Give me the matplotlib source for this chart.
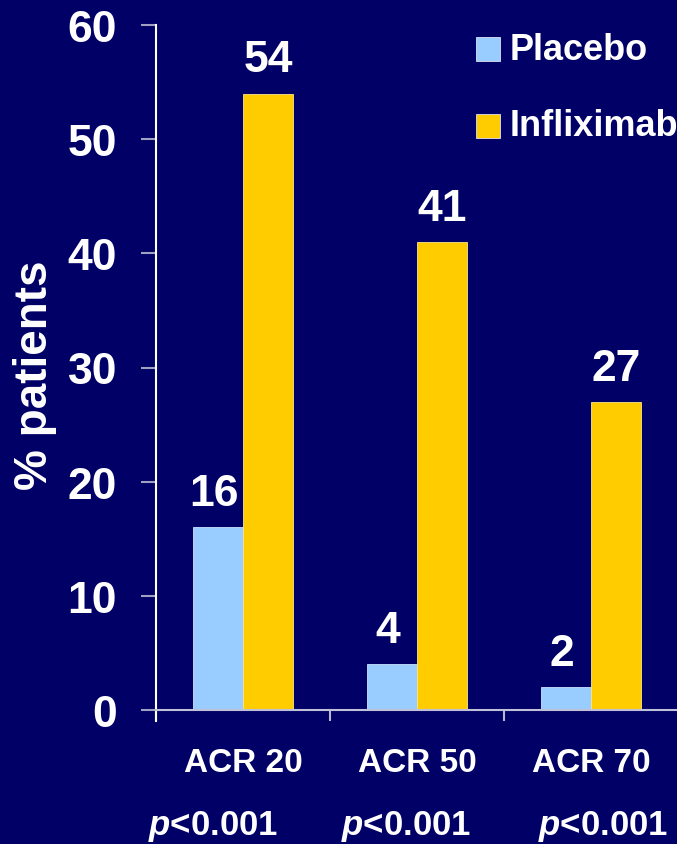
import matplotlib.pyplot as plt
from matplotlib.patches import Rectangle
import numpy as np

# response rates by ACR criterion
categories = ["ACR 20", "ACR 50", "ACR 70"]
placebo = [16, 4, 2]
infliximab = [54, 41, 27]
p_values = ["$p$<0.001"] * 3
series_names = ["Placebo", "Infliximab"]

bg = "#000066"
c_placebo = "#99CCFF"
c_inflix = "#FFCC00"

plt.rcParams["font.family"] = ["Liberation Sans", "DejaVu Sans"]
plt.rcParams["font.weight"] = "bold"
plt.rcParams["mathtext.fontset"] = "custom"
plt.rcParams["mathtext.it"] = "Liberation Sans:italic:bold"
plt.rcParams["mathtext.rm"] = "Liberation Sans:bold"

fig = plt.figure(figsize=(6.77, 8.45), dpi=100, facecolor=bg)
ax = fig.add_axes([156 / 677, 1 - 711 / 845, 522 / 677, 685 / 845])
ax.set_facecolor(bg)

x = np.arange(len(categories))
w = 50 / 174
ax.bar(x - w / 2, placebo, w, color=c_placebo, edgecolor="#c8e4ff", linewidth=0.6)
ax.bar(x + w / 2, infliximab, w, color=c_inflix, edgecolor="#ffe680", linewidth=0.6)

# value labels above each bar
for xi, v in zip(x - w / 2, placebo):
    ax.annotate(str(v), (xi, v), xytext=(-3, 16), textcoords="offset points",
                ha="center", va="baseline", color="white", fontsize=32, fontweight="bold")
for xi, v in zip(x + w / 2, infliximab):
    ax.annotate(str(v), (xi, v), xytext=(0, 16), textcoords="offset points",
                ha="center", va="baseline", color="white", fontsize=32, fontweight="bold")

ax.set_xlim(-0.5, 2.5)
ax.set_ylim(0, 60)
ax.set_yticks(range(0, 61, 10))
ax.tick_params(axis="y", colors="#a0a0c0", length=11, width=1.5, pad=17,
               labelcolor="white", labelsize=32)
for lab in ax.get_yticklabels():
    lab.set_fontweight("bold")

ax.set_xticks([])
ax.set_xticks([-0.5, 0.5, 1.5], minor=True)
ax.tick_params(axis="x", which="minor", colors="#b8b8d0", length=8, width=1.5)

for s in ["top", "right"]:
    ax.spines[s].set_visible(False)
ax.spines["left"].set_color("white")
ax.spines["left"].set_linewidth(1.5)
ax.spines["left"].set_bounds(-1, 60)
ax.spines["bottom"].set_color("#c0c0d8")
ax.spines["bottom"].set_linewidth(1.5)

ax.set_ylabel("% patients", color="white", fontsize=33, fontweight="bold", va="center")
ax.yaxis.set_label_coords(-0.232, 0.49)

# category names and significance under the axis
trans = ax.get_xaxis_transform()
for xi, name in zip(x, categories):
    ax.text(xi, -0.076, name, transform=trans, ha="center", va="center",
            color="white", fontsize=24, fontweight="bold")
p_x = [-0.17, 0.94, 2.07]
for xi, p in zip(p_x, p_values):
    ax.text(xi, -0.168, p, transform=trans, ha="center", va="center",
            color="white", fontsize=25, fontweight="bold")

# legend drawn as swatches with labels
for i, (name, col) in enumerate(zip(series_names, [c_placebo, c_inflix])):
    yc = [50, 127][i]
    fig.patches.append(Rectangle((476 / 677, 1 - (yc + 12) / 845), 24 / 677, 24 / 845,
                                 transform=fig.transFigure, facecolor=col,
                                 edgecolor="#e0e0f0", linewidth=0.6))
    fig.text(510 / 677, 1 - yc / 845, name, ha="left", va="center",
             color="white", fontsize=26, fontweight="bold")

fig.savefig("out.png", dpi=100, facecolor=bg)
